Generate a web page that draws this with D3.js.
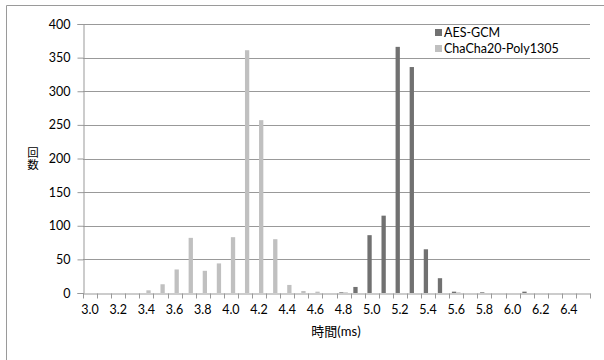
<!DOCTYPE html>
<html>
<head>
<meta charset="utf-8">
<script src="https://d3js.org/d3.v7.min.js"></script>
<style>
  body { margin: 0; background: #fff; }
  svg { display: block; }
</style>
</head>
<body>
<svg id="chart" width="604" height="360"></svg>
<script>
const categories = ['3.0','3.1','3.2','3.3','3.4','3.5','3.6','3.7','3.8','3.9',
                    '4.0','4.1','4.2','4.3','4.4','4.5','4.6','4.7','4.8','4.9',
                    '5.0','5.1','5.2','5.3','5.4','5.5','5.6','5.7','5.8','5.9',
                    '6.0','6.1','6.2','6.3','6.4','6.5'];
const aesGcm = [0,0,0,0,0,0,0,0,0,0,
                0,0,0,0,0,0,0,0,1,9,
                86,115,366,336,65,22,2,0,1,0,
                0,2,0,0,0,0];
const chacha = [0,0,0,0,4,13,35,82,33,44,
                83,361,257,80,12,3,2,0,1,0,
                0,0,0,0,0,0,1,0,0,0,
                0,0,0,0,0,0];
const xLabels = ['3.0','3.2','3.4','3.6','3.8','4.0','4.2','4.4','4.6',
                 '4.8','5.0','5.2','5.4','5.6','5.8','6.0','6.2','6.4'];
const seriesNames = ['AES-GCM', 'ChaCha20-Poly1305'];
const seriesColors = ['#717171', '#c0c0c0'];
const yTicks = [0, 50, 100, 150, 200, 250, 300, 350, 400];

const font = "Lato, 'Noto Sans CJK JP', sans-serif";
const margin = {top: 24, right: 14, bottom: 67, left: 83};
const svg = d3.select('#chart');
const width = +svg.attr('width');
const height = +svg.attr('height');
const innerWidth = width - margin.left - margin.right;
const innerHeight = height - margin.top - margin.bottom;

// outer frame: only the left and top edges are inside the picture
svg.append('path')
   .attr('d', `M6.5,${height} L6.5,5.5 L${width},5.5`)
   .attr('fill', 'none').attr('stroke', '#9a9a9a').attr('stroke-width', 1);

const g = svg.append('g').attr('transform', `translate(${margin.left}, ${margin.top})`);

const x = d3.scaleBand().domain(categories).range([0, innerWidth]).padding(0);
const y = d3.scaleLinear().domain([0, 400]).range([innerHeight, 0]);
const barW = 4.3;
const x1 = d3.scaleBand().domain(seriesNames)
             .range([x.bandwidth() / 2 - barW, x.bandwidth() / 2 + barW]);

// gridlines
g.append('g')
 .selectAll('line')
 .data(yTicks.filter(d => d > 0))
 .enter().append('line')
 .attr('x1', 0).attr('x2', innerWidth)
 .attr('y1', d => Math.round(y(d)) + 0.5).attr('y2', d => Math.round(y(d)) + 0.5)
 .attr('stroke', '#999').attr('stroke-width', 1);

// bars
const rows = categories.map((c, i) => ({cat: c, vals: [aesGcm[i], chacha[i]]}));
g.append('g')
 .selectAll('g')
 .data(rows)
 .enter().append('g')
 .attr('transform', d => `translate(${x(d.cat)}, 0)`)
 .selectAll('rect')
 .data(d => d.vals.map((v, k) => ({name: seriesNames[k], v: v, k: k})))
 .enter().append('rect')
 .attr('x', d => x1(d.name))
 .attr('width', x1.bandwidth())
 .attr('y', d => y(d.v))
 .attr('height', d => innerHeight - y(d.v))
 .attr('fill', d => seriesColors[d.k]);

// y axis
const yAxis = d3.axisLeft(y).tickValues(yTicks).tickSize(6).tickPadding(7);
const yg = g.append('g').attr('transform', 'translate(0.5, 0)').call(yAxis)
            .attr('font-family', font).attr('font-size', 12.5);
yg.select('.domain').attr('stroke', '#999');
yg.selectAll('.tick line').attr('stroke', '#999');

// x axis
const xAxis = d3.axisBottom(x).tickValues(xLabels).tickSize(0).tickPadding(12);
const xg = g.append('g').attr('transform', `translate(0, ${innerHeight + 0.5})`).call(xAxis)
            .attr('font-family', font).attr('font-size', 12.5);
xg.select('.domain').attr('stroke', '#999');
xg.selectAll('.boundary')
  .data(categories.concat(['end']))
  .enter().append('line')
  .attr('class', 'boundary')
  .attr('x1', (d, i) => Math.round(i * x.step()) + 0.5)
  .attr('x2', (d, i) => Math.round(i * x.step()) + 0.5)
  .attr('y1', 0).attr('y2', 5)
  .attr('stroke', '#999');

// axis titles
svg.append('text')
   .text('時間(ms)')
   .attr('x', 336).attr('y', 336)
   .attr('text-anchor', 'middle')
   .attr('font-family', font)
   .attr('font-size', 13);
const yTitle = svg.append('text')
   .attr('font-family', font).attr('font-size', 11.5).attr('text-anchor', 'middle');
['回', '数'].forEach((ch, i) => {
  yTitle.append('tspan').attr('x', 33).attr('y', 157 + i * 12).text(ch);
});

// legend
const legend = svg.append('g').attr('transform', 'translate(435, 29)')
                  .attr('font-family', font).attr('font-size', 12.5);
seriesNames.forEach((name, i) => {
  legend.append('rect')
        .attr('x', 0).attr('y', i * 16)
        .attr('width', 7).attr('height', 7)
        .attr('fill', seriesColors[i]);
  legend.append('text')
        .attr('x', 9).attr('y', i * 16 + 8)
        .text(name);
});
</script>
</body>
</html>
